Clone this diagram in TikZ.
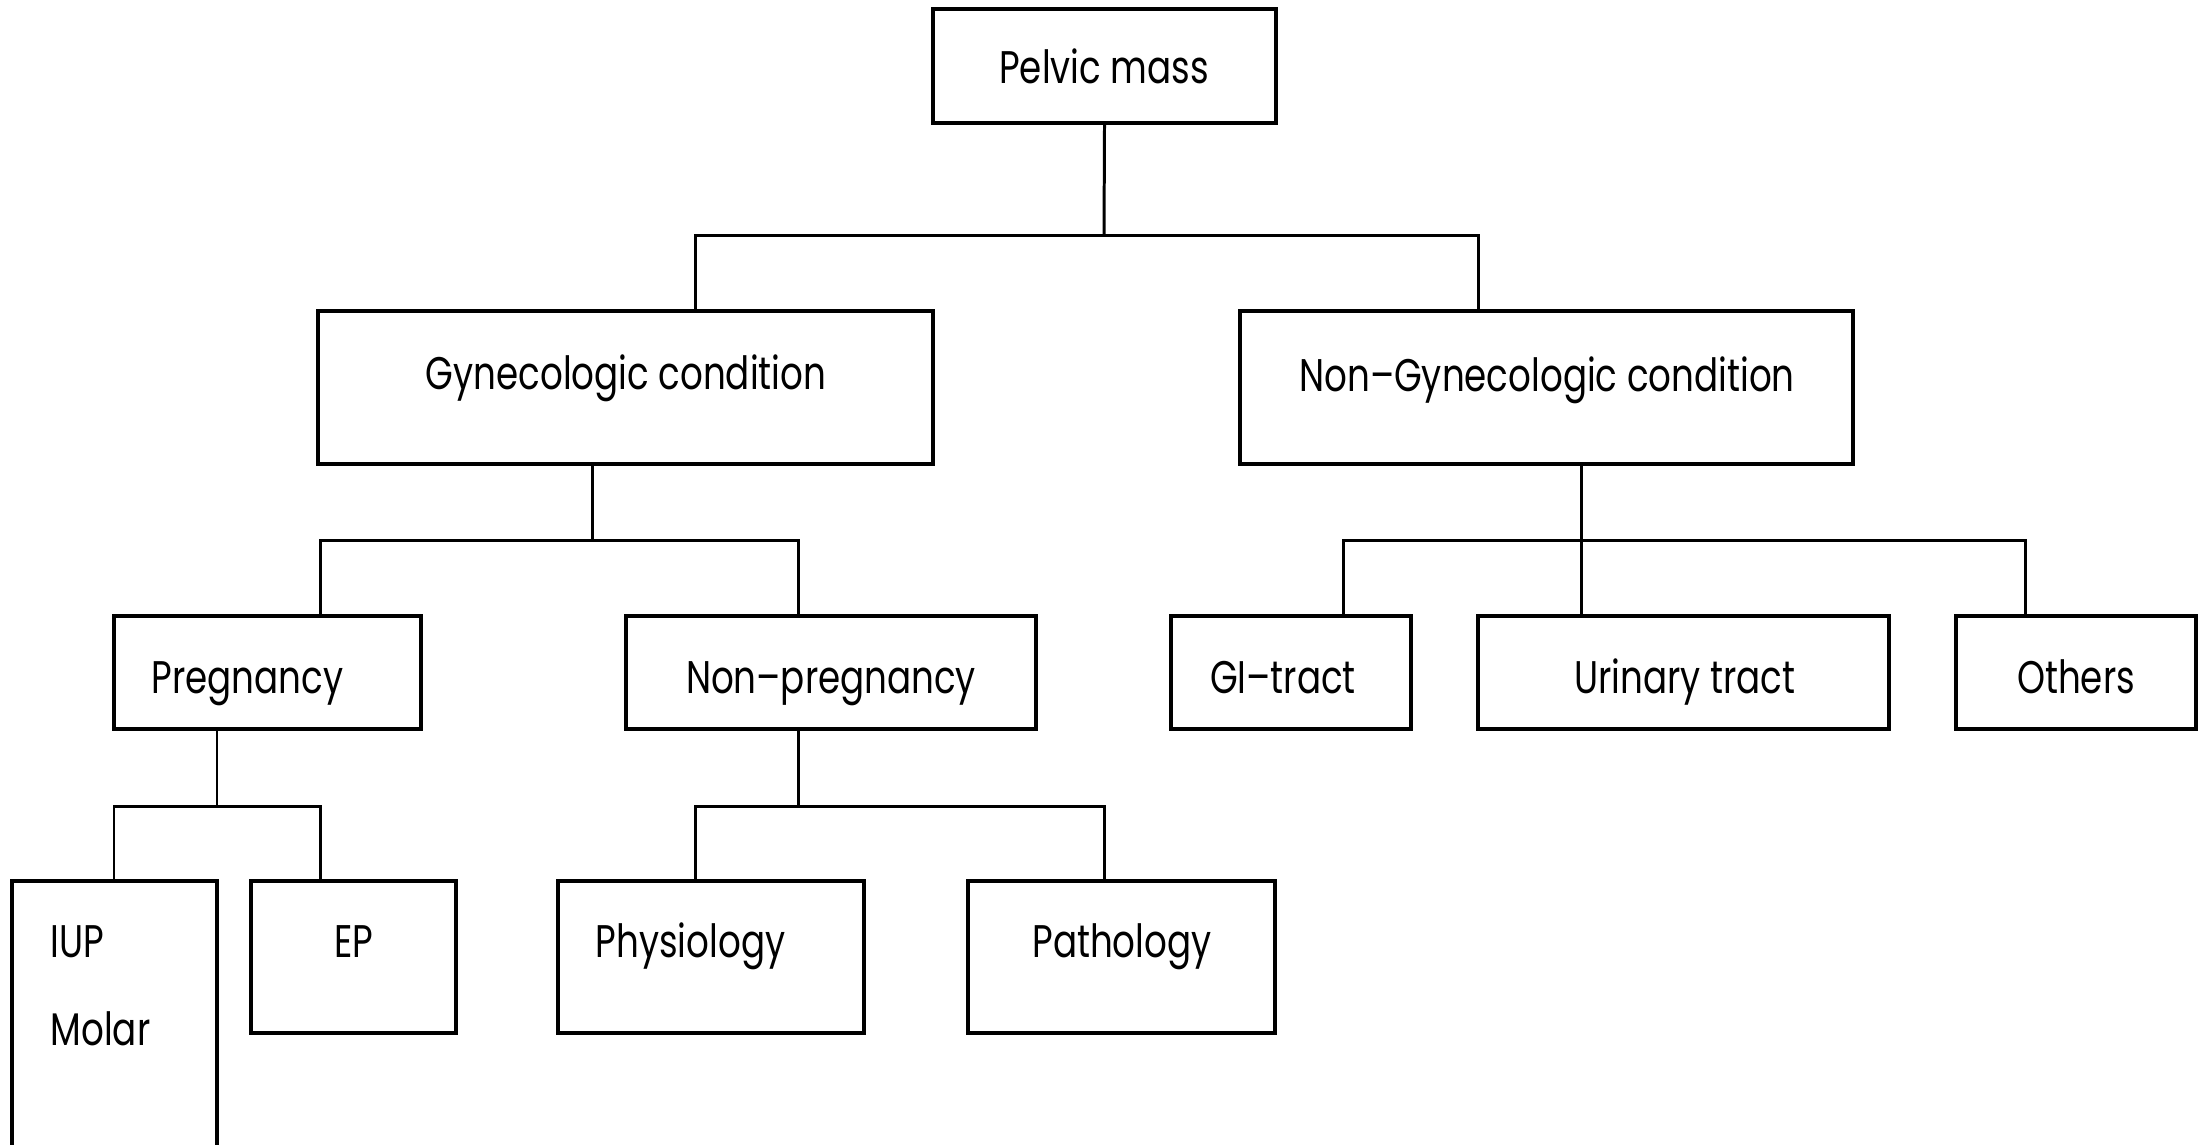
\documentclass[tikz,border=0pt]{standalone}
\usepackage{fontspec}
\setmainfont[FakeStretch=0.78]{Poppins}
\usetikzlibrary{calc}
\begin{document}
\begin{tikzpicture}[x=0.01cm,y=-0.01cm,
  box/.style 2 args={draw,line width=1pt,inner sep=0pt,minimum width=#1,minimum height=#2},
  conn/.style={line width=0.85pt},
  txt/.style={font=\fontsize{13pt}{15pt}\selectfont,inner sep=0pt}]
\useasboundingbox (0,0) rectangle (2210,1144);
% boxes
\node[box={3.43cm}{1.14cm}] (pm) at (1104.5,66) {};
\node[box={6.15cm}{1.53cm}] (gyn) at (625.5,387.5) {};
\node[box={6.13cm}{1.53cm}] (ngyn) at (1546.5,387.5) {};
\node[box={3.07cm}{1.13cm}] (preg) at (267.5,672.5) {};
\node[box={4.10cm}{1.13cm}] (npreg) at (831,672.5) {};
\node[box={2.40cm}{1.13cm}] (gi) at (1291,672.5) {};
\node[box={4.11cm}{1.13cm}] (uri) at (1683.5,672.5) {};
\node[box={2.40cm}{1.13cm}] (oth) at (2076,672.5) {};
\node[box={2.05cm}{4.00cm}] (iup) at (114.5,1081) {};
\node[box={2.05cm}{1.52cm}] (ep) at (353.5,957) {};
\node[box={3.06cm}{1.52cm}] (phys) at (711,957) {};
\node[box={3.07cm}{1.52cm}] (path) at (1121.5,957) {};
% texts
\node[txt,anchor=base] (tpm) at (1104,83) {Pelvic mass};
\node[txt,anchor=base] (tgyn) at (626,389) {Gynecologic condition};
\node[txt,anchor=base] (tngyn) at (1547,391) {Non--Gynecologic condition};
\node[txt,anchor=base west] (tpreg) at (151,693) {Pregnancy};
\node[txt,anchor=base] (tnpreg) at (831,693) {Non--pregnancy};
\node[txt,anchor=base] (tgi) at (1283,693) {GI--tract};
\node[txt,anchor=base] (turi) at (1685,693) {Urinary tract};
\node[txt,anchor=base] (toth) at (2076,693) {Others};
\node[txt,anchor=base west] (tiup) at (50,957) {IUP};
\node[txt,anchor=base west] (tmol) at (50,1045) {Molar};
\node[txt,anchor=base] (tep) at (354,957) {EP};
\node[txt,anchor=base west] (tphys) at (595,957) {Physiology};
\node[txt,anchor=base] (tpath) at (1122,957) {Pathology};
% helper coordinates
\coordinate (b1) at (1104,235);
\coordinate (b2) at (592,540);
\coordinate (b3) at (1581,540);
\coordinate (b4) at (217,806);
\coordinate (b5) at (798,806);
\coordinate (x695) at (695,0);
\coordinate (x1478) at (1478,0);
\coordinate (x320) at (320,0);
\coordinate (x798) at (798,0);
\coordinate (x1343) at (1343,0);
\coordinate (x1581) at (1581,0);
\coordinate (x2025) at (2025,0);
\coordinate (x114) at (114,0);
\coordinate (x1104) at (1104,0);
\coordinate (x592) at (592,0);
\coordinate (x217) at (217,0);
% connectors
\draw[conn] (pm.south) -- (b1);
\draw[conn] (gyn.north -| x695) |- (b1) -| (ngyn.north -| x1478);
\draw[conn] (gyn.south -| x592) -- (b2);
\draw[conn] (preg.north -| x320) |- (b2) -| (npreg.north -| x798);
\draw[conn] (ngyn.south -| x1581) -- (uri.north -| x1581);
\draw[conn] (gi.north -| x1343) |- (b3) -| (oth.north -| x2025);
\draw[conn] (preg.south -| x217) -- (b4);
\draw[conn] (iup.north -| x114) |- (b4) -| (ep.north -| x320);
\draw[conn] (npreg.south -| x798) -- (b5);
\draw[conn] (phys.north -| x695) |- (b5) -| (path.north -| x1104);
\end{tikzpicture}
\end{document}
